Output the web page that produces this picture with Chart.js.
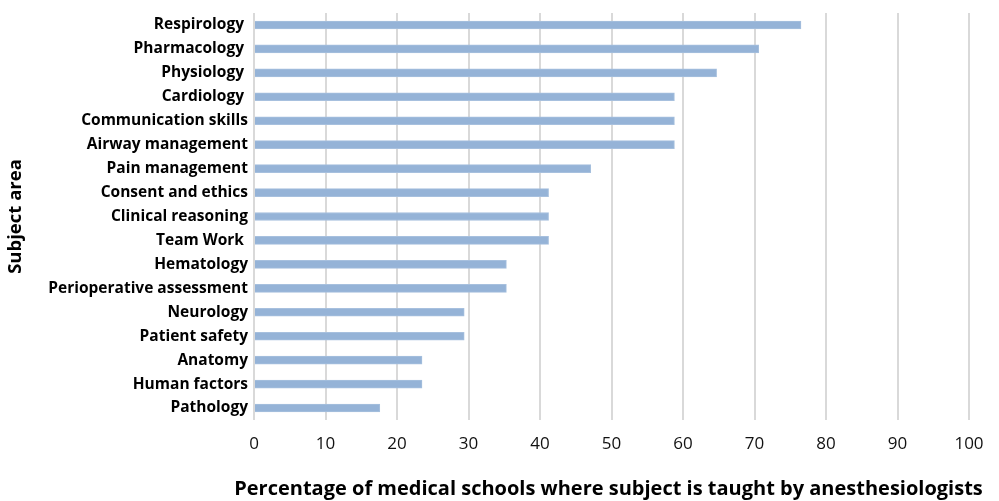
<!DOCTYPE html>
<html>
<head>
<meta charset="utf-8">
<script src="https://cdn.jsdelivr.net/npm/chart.js@4"></script>
<style>
  html, body { margin: 0; padding: 0; background: #fff; }
  #wrap { width: 999px; height: 501px; }
</style>
</head>
<body>
<div id="wrap"><canvas id="subjects"></canvas></div>
<script>
// subjects, top to bottom
const subjects = [
  "Respirology ", "Pharmacology ", "Physiology ", "Cardiology ",
  "Communication skills", "Airway management", "Pain management",
  "Consent and ethics", "Clinical reasoning", "Team Work ",
  "Hematology", "Perioperative assessment", "Neurology",
  "Patient safety", "Anatomy", "Human factors", "Pathology"
];
// % of schools (n = 17)
const percentTaught = [
  76.5, 70.6, 64.7, 58.8, 58.8, 58.8, 47.1, 41.2, 41.2, 41.2,
  35.3, 35.3, 29.4, 29.4, 23.5, 23.5, 17.6
];
const xTicks = [0, 10, 20, 30, 40, 50, 60, 70, 80, 90, 100];
const xTitle = 'Percentage of medical schools where subject is taught by anesthesiologists';

const font = "'Open Sans', sans-serif";

// the x title is wider than the plot, so the axis title would get squeezed;
// draw it by hand under the tick labels instead
const xTitlePlugin = {
  id: 'xTitle',
  afterDraw(chart) {
    const ctx = chart.ctx;
    const area = chart.chartArea;
    ctx.save();
    ctx.font = "bold 20px " + font;
    ctx.fillStyle = '#000';
    ctx.textAlign = 'center';
    ctx.textBaseline = 'middle';
    ctx.fillText(xTitle, (area.left + area.right) / 2 - 3, area.bottom + 69);
    ctx.restore();
  }
};

new Chart(document.getElementById('subjects'), {
  type: 'bar',
  data: {
    labels: subjects,
    datasets: [{
      data: percentTaught,
      backgroundColor: '#95B3D7',
      borderColor: '#A7C0DE',
      borderWidth: 1,
      barThickness: 8
    }]
  },
  options: {
    indexAxis: 'y',
    responsive: true,
    maintainAspectRatio: false,
    animation: false,
    layout: { padding: { top: 13, right: 30, left: 0, bottom: 0 } },
    plugins: { legend: { display: false }, tooltip: { enabled: false } },
    scales: {
      x: {
        min: 0,
        max: 100,
        afterBuildTicks: s => { s.ticks = xTicks.map(v => ({ value: v })); },
        afterFit: s => { s.height = 81; },
        grid: { color: '#D9D9D9', lineWidth: 2, drawTicks: false },
        border: { display: false },
        ticks: { color: '#111', padding: 14, font: { family: font, size: 17 } },
        title: { display: false }
      },
      y: {
        afterFit: s => { s.width = 254; },
        grid: { display: false },
        border: { display: false },
        ticks: { color: '#000', padding: -2, font: { family: font, size: 15.5, weight: 'bold' } },
        title: {
          display: true,
          text: 'Subject area',
          color: '#000',
          font: { family: font, size: 18.5, weight: 'bold' },
          padding: { top: 5, bottom: 0 }
        }
      }
    }
  },
  plugins: [xTitlePlugin]
});
</script>
</body>
</html>
